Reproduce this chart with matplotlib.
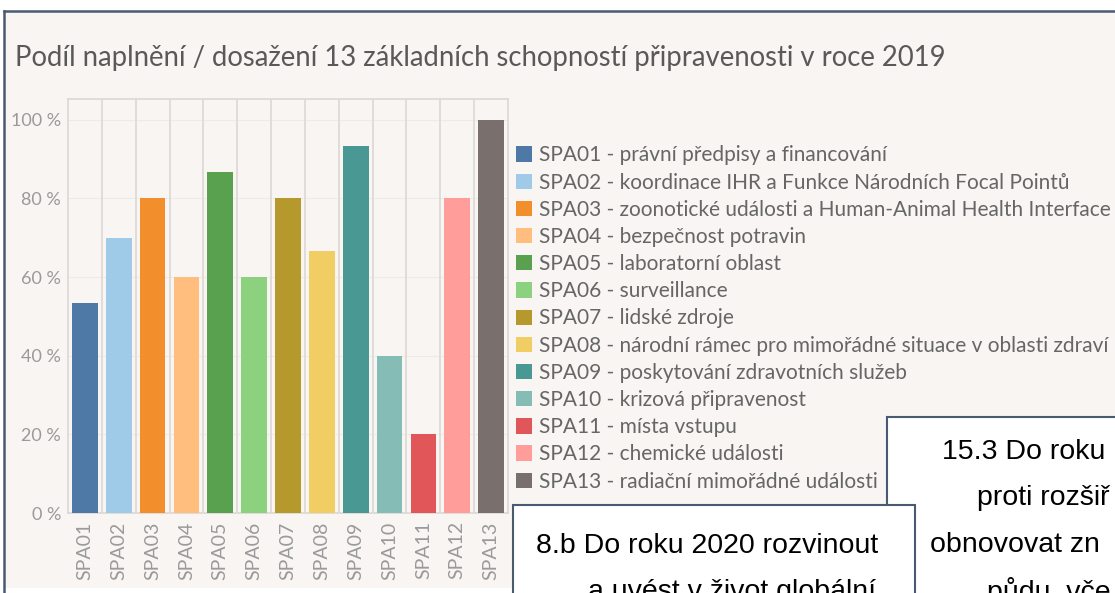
import matplotlib
matplotlib.use("Agg")
import matplotlib.pyplot as plt
from matplotlib.patches import Patch, Rectangle
from matplotlib.lines import Line2D

codes = ["SPA01", "SPA02", "SPA03", "SPA04", "SPA05", "SPA06", "SPA07",
         "SPA08", "SPA09", "SPA10", "SPA11", "SPA12", "SPA13"]
values = [53.3, 70.0, 80.0, 60.0, 86.7, 60.0, 80.0, 66.7, 93.3, 40.0, 20.0, 80.0, 100.0]
names = ["právní předpisy a financování",
         "koordinace IHR a Funkce Národních Focal Pointů",
         "zoonotické události a Human-Animal Health Interface",
         "bezpečnost potravin",
         "laboratorní oblast",
         "surveillance",
         "lidské zdroje",
         "národní rámec pro mimořádné situace v oblasti zdraví",
         "poskytování zdravotních služeb",
         "krizová připravenost",
         "místa vstupu",
         "chemické události",
         "radiační mimořádné události"]
colors = ["#4e79a7", "#a0cbe8", "#f28e2b", "#ffbe7d", "#59a14f", "#8cd17d", "#b6992d",
          "#f1ce63", "#499894", "#86bcb6", "#e15759", "#ff9d9a", "#79706e"]
yticks = [0, 20, 40, 60, 80, 100]

title = "Podíl naplnění / dosažení 13 základních schopností připravenosti v roce 2019"
# slide text boxes overlapping the chart (only the visible part)
box1_lines = ["8.b Do roku 2020 rozvinout", "a uvést v život globální"]
box2_lines = ["15.3 Do roku", "proti rozšiř", "obnovovat zn", "půdu, vče"]

W, H = 1115, 593
plt.rcParams['font.family'] = ['Lato', 'DejaVu Sans']


def fx(px):
    return px / W


def fy(py):
    return 1 - py / H


fig = plt.figure(figsize=(W / 100, H / 100), dpi=100)
fig.patch.set_facecolor("white")

# slide panel background
bg = fig.add_axes([0, 0, 1, 1])
bg.set_xlim(0, W)
bg.set_ylim(H, 0)
bg.axis("off")
bg.add_patch(Rectangle((4, 11), W, 577, facecolor="#f8f5f2", edgecolor="none"))
bg.add_line(Line2D([4, 4], [11, H], color="#4a5a72", lw=1.8))
bg.add_line(Line2D([4, W], [11, 11], color="#4a5a72", lw=1.8))

fig.text(fx(15), fy(58), title, fontsize=19.8, color="#595959", va="center", ha="left")

ax = fig.add_axes([fx(68), fy(513), fx(508) - fx(68), fy(99) - fy(513)])
ax.set_facecolor("#f8f5f2")
x = list(range(len(codes)))
ax.bar(x, values, width=0.76, color=colors, zorder=3)
ax.set_xlim(-0.5, len(codes) - 0.5)
ax.set_ylim(0, 105.3)
ax.set_yticks(yticks)
ax.set_yticklabels([f"{v} %" for v in yticks])
ax.set_xticks(x)
ax.set_xticklabels(codes, rotation=90)
ax.tick_params(axis="both", length=0, colors="#9a9a9a")
ax.tick_params(axis="x", pad=6, labelsize=14)
ax.tick_params(axis="y", pad=5, labelsize=13)
for xb in [i + 0.5 for i in range(len(codes) - 1)]:
    ax.axvline(xb, color="#dcd8d4", lw=1.2, zorder=1)
for yv in yticks[1:]:
    ax.axhline(yv, color="#eeeae6", lw=0.8, zorder=0)
for s in ax.spines.values():
    s.set_color("#dcd8d4")
    s.set_linewidth(1.2)

handles = [Patch(facecolor=c, edgecolor="none") for c in colors]
labels = [f"{c} - {n}" for c, n in zip(codes, names)]
fig.legend(handles, labels, loc="upper left", bbox_to_anchor=(fx(508), fy(137)),
           frameon=False, fontsize=15, labelcolor="#666666", handlelength=0.75,
           handleheight=0.75, handletextpad=0.35, labelspacing=0.345, borderaxespad=0)

# overlapping slide text boxes
bg2 = fig.add_axes([0, 0, 1, 1])
bg2.set_xlim(0, W)
bg2.set_ylim(H, 0)
bg2.axis("off")
bg2.add_patch(Rectangle((887, 417), 300, 300, facecolor="white", edgecolor="#4a5a72", lw=1.5))
box2_x = [942, 977, 930, 987]
box2_y = [452, 498, 545, 592]
for t, xx, yy in zip(box2_lines, box2_x, box2_y):
    bg2.text(xx, yy, t, fontsize=20.5, family="Liberation Sans", color="black",
             ha="left", va="center", clip_on=True)
bg2.add_patch(Rectangle((513, 505), 402, 200, facecolor="white", edgecolor="#4a5a72", lw=1.5))
box1_x = [536, 588]
box1_y = [546, 592]
for t, xx, yy in zip(box1_lines, box1_x, box1_y):
    bg2.text(xx, yy, t, fontsize=20.5, family="Liberation Sans", color="black",
             ha="left", va="center", clip_on=True)

fig.savefig("out.png", dpi=100, facecolor=fig.get_facecolor())
